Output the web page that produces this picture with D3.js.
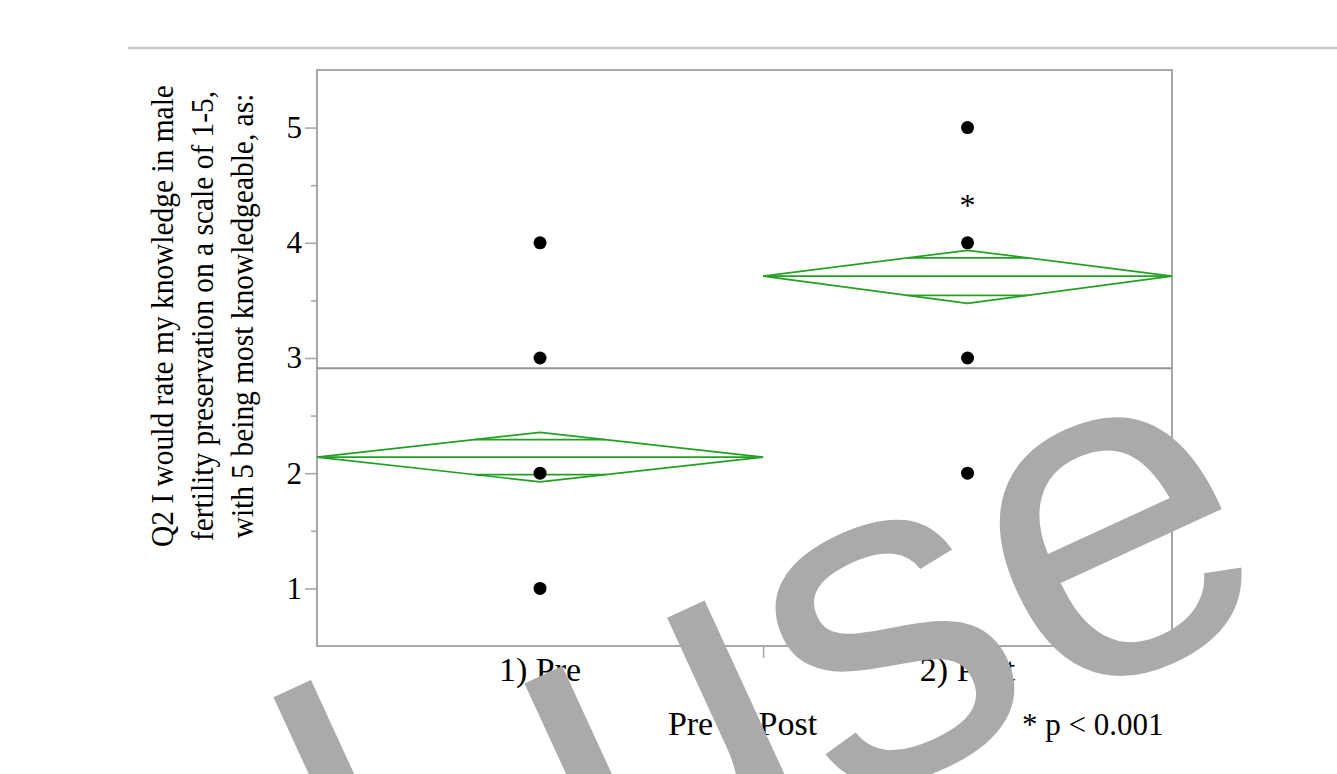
<!DOCTYPE html>
<html>
<head>
<meta charset="utf-8">
<script src="https://cdn.jsdelivr.net/npm/d3@7"></script>
<style>
  html, body { margin: 0; padding: 0; background: #fff; }
  svg { display: block; }
  text { font-family: "Liberation Serif", "Times New Roman", serif; fill: #000; }
</style>
</head>
<body>
<div id="chart"></div>
<script>
// values
const categories = ['1) Pre', '2) Post'];
const groupCounts = [24, 22];
const groupMeans = [2.14, 3.71];
const ciLower = [1.925, 3.475];
const ciUpper = [2.355, 3.935];
const pointValues = [[1, 2, 3, 4], [2, 3, 4, 5]];
const grandMean = 2.91;
const yTicks = [1, 2, 3, 4, 5];
const yMinorTicks = [1.5, 2.5, 3.5, 4.5];
const yTitleLines = [
  'Q2 I would rate my knowledge in male',
  'fertility preservation on a scale of 1-5,',
  'with 5 being most knowledgeable, as:'
];
const xTitle = 'Pre or Post';
const sigMarks = [{ group: 1, value: 4.35, text: '*' }];
const footnote = '* p < 0.001';
const watermark = 'l use';

const W = 1337, H = 774;
const plot = { left: 317, right: 1172, top: 70, bottom: 646 };
const green = '#22a022';
const frameGray = '#a8a8a8';
const squeeze = 'scale(0.92,1)';

const svg = d3.select('#chart').append('svg')
  .attr('width', W)
  .attr('height', H)
  .attr('viewBox', `0 0 ${W} ${H}`);

// separator line across the top
svg.append('line')
  .attr('x1', 128).attr('x2', W)
  .attr('y1', 48).attr('y2', 48)
  .attr('stroke', '#c6c6c6')
  .attr('stroke-width', 2.5);

// scales: x width of each group proportional to its count
const cum = d3.cumsum(groupCounts);
const totalN = cum[cum.length - 1];
const x = d3.scaleLinear().domain([0, totalN]).range([plot.left, plot.right]);
const y = d3.scaleLinear().domain([0.5, 5.5]).range([plot.bottom, plot.top]);

const groups = categories.map((name, i) => {
  const start = i === 0 ? 0 : cum[i - 1];
  return {
    name,
    x0: x(start),
    x1: x(cum[i]),
    cx: x(start + groupCounts[i] / 2),
    mean: groupMeans[i],
    lo: ciLower[i],
    hi: ciUpper[i],
    points: pointValues[i]
  };
});

// axes
const yAxis = svg.append('g')
  .attr('transform', `translate(${plot.left},0)`)
  .call(d3.axisLeft(y).tickValues(yTicks).tickSize(12).tickPadding(3).tickFormat(d3.format('d')));
yAxis.select('.domain').remove();
yAxis.selectAll('.tick line').attr('stroke', frameGray).attr('stroke-width', 1.6);
yAxis.selectAll('.tick text')
  .attr('font-family', '"Liberation Serif", "Times New Roman", serif')
  .attr('font-size', 31)
  .attr('fill', '#000');

const yMinor = svg.append('g')
  .attr('transform', `translate(${plot.left},0)`)
  .call(d3.axisLeft(y).tickValues(yMinorTicks).tickSize(6).tickFormat(''));
yMinor.select('.domain').remove();
yMinor.selectAll('.tick line').attr('stroke', frameGray).attr('stroke-width', 1.6);

const xAxis = svg.append('g')
  .attr('transform', `translate(0,${plot.bottom})`)
  .call(d3.axisBottom(x).tickValues(cum.slice(0, -1)).tickSize(12).tickFormat(''));
xAxis.select('.domain').remove();
xAxis.selectAll('.tick line').attr('stroke', frameGray).attr('stroke-width', 1.6);

// frame
svg.append('rect')
  .attr('x', plot.left).attr('y', plot.top)
  .attr('width', plot.right - plot.left)
  .attr('height', plot.bottom - plot.top)
  .attr('fill', 'none')
  .attr('stroke', frameGray)
  .attr('stroke-width', 2);

// grand mean
svg.append('line')
  .attr('x1', plot.left).attr('x2', plot.right)
  .attr('y1', y(grandMean)).attr('y2', y(grandMean))
  .attr('stroke', '#949494')
  .attr('stroke-width', 2);

// means diamonds with overlap marks
const diamonds = svg.append('g').attr('class', 'diamonds')
  .attr('fill', 'none')
  .attr('stroke', green)
  .attr('stroke-width', 1.7);

groups.forEach(g => {
  diamonds.append('path')
    .attr('d', d3.line()([
      [g.x0, y(g.mean)], [g.cx, y(g.hi)], [g.x1, y(g.mean)], [g.cx, y(g.lo)]
    ]) + 'Z');
  diamonds.append('line')
    .attr('x1', g.x0).attr('x2', g.x1)
    .attr('y1', y(g.mean)).attr('y2', y(g.mean));
  // overlap marks sit at mean +/- half-CI / sqrt(2)
  const half = (g.x1 - g.x0) / 2;
  const w = half * (1 - Math.SQRT1_2);
  [g.mean + (g.hi - g.mean) * Math.SQRT1_2, g.mean - (g.mean - g.lo) * Math.SQRT1_2].forEach(v => {
    diamonds.append('line')
      .attr('x1', g.cx - w).attr('x2', g.cx + w)
      .attr('y1', y(v)).attr('y2', y(v));
  });
});

// points
const pts = groups.flatMap(g => g.points.map(v => ({ cx: g.cx, v })));
svg.append('g').selectAll('circle')
  .data(pts)
  .join('circle')
  .attr('cx', d => d.cx)
  .attr('cy', d => y(d.v))
  .attr('r', 6.5)
  .attr('fill', '#000');

// significance mark
svg.append('g').selectAll('text')
  .data(sigMarks)
  .join('text')
  .attr('x', d => groups[d.group].cx)
  .attr('y', d => y(d.value))
  .attr('dy', '0.42em')
  .attr('text-anchor', 'middle')
  .attr('font-size', 32)
  .text(d => d.text);

// category labels
svg.append('g').selectAll('text')
  .data(groups)
  .join('text')
  .attr('x', d => d.cx)
  .attr('y', 681)
  .attr('text-anchor', 'middle')
  .attr('font-size', 34)
  .text(d => d.name);

// axis titles
svg.append('text')
  .attr('x', (plot.left + plot.right) / 2 - 2)
  .attr('y', 735)
  .attr('text-anchor', 'middle')
  .attr('font-size', 34)
  .text(xTitle);

svg.append('g').selectAll('text')
  .data(yTitleLines)
  .join('text')
  .attr('transform', (d, i) => `translate(${173 + i * 40},316) rotate(-90) ${squeeze}`)
  .attr('text-anchor', 'middle')
  .attr('font-size', 32)
  .text(d => d);

svg.append('text')
  .attr('x', 1022)
  .attr('y', 735)
  .attr('font-size', 31)
  .text(footnote);

// watermark over everything
svg.append('text')
  .attr('transform', 'translate(387,1020) rotate(-24.7)')
  .attr('font-size', 470)
  .style('font-family', '"Liberation Sans", Arial, sans-serif')
  .style('fill', '#aaaaaa')
  .text(watermark);
</script>
</body>
</html>
